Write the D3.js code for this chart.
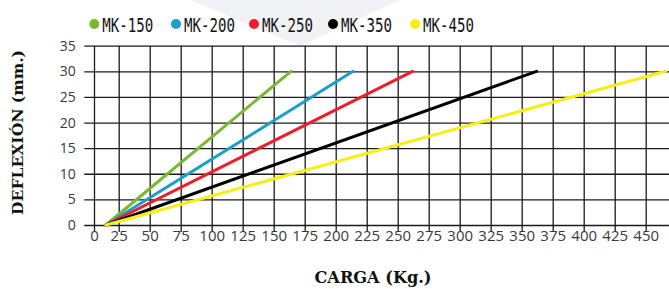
<!DOCTYPE html>
<html>
<head>
  <meta http-equiv="Content-Type" content="text/html;charset=utf-8">
  <title>Deflexion vs carga</title>
  <script src="https://d3js.org/d3.v7.min.js"></script>
  <style type="text/css">
    body { margin: 0; background: #fff; }
    .tick text { font-family: "Open Sans", sans-serif; fill: #3a3a3a; }
    .grid line { stroke: #1a1a1a; stroke-width: 1.3px; }
    .title { font-family: "DejaVu Serif", serif; font-weight: bold; fill: #111; }
    .legend text { font-family: "DejaVu Sans Mono", monospace; fill: #111; }
  </style>
</head>
<body>
  <svg width="669" height="289"></svg>
  <script type='text/javascript'>
    const series = ['MK-150', 'MK-200', 'MK-250', 'MK-350', 'MK-450'];
    const colors = ['#78b833', '#1aa0c8', '#ee1f2d', '#000000', '#f7ee14'];
    // each model: load (kg) at 0 mm and at 30 mm
    const loads = [[12, 164], [12, 214], [12, 262], [12, 362], [12, 466]];
    const deflections = [0, 30];
    const xTicks = [0, 25, 50, 75, 100, 125, 150, 175, 200, 225, 250, 275, 300, 325, 350, 375, 400, 425, 450];
    const yTicks = [0, 5, 10, 15, 20, 25, 30, 35];

    const svg = d3.select('svg');
    const width = +svg.attr('width');

    // faint watermark behind the legend
    svg.append('path')
        .attr('d', 'M190,0 L400,0 L300,46 Z')
        .attr('fill', '#f1f2f6');

    // first step (0-25) is drawn narrower than the rest in the original
    const x = d3.scaleLinear()
        .domain([0, 25, 470])
        .range([94, 118.7, 670.5]);
    const y = d3.scaleLinear()
        .domain([0, 35])
        .range([225, 45.7]);

    const gx = svg.append('g')
        .attr('class', 'grid')
        .attr('transform', 'translate(0,232)')
        .call(d3.axisBottom(x).tickValues(xTicks).tickSize(-(232 - y(35))).tickSizeOuter(0));
    gx.select('.domain').remove();
    gx.selectAll('.tick text')
        .attr('dy', '0')
        .attr('y', 9)
        .style('font-size', '15px');

    const gy = svg.append('g')
        .attr('class', 'grid')
        .attr('transform', 'translate(84.3,0)')
        .call(d3.axisLeft(y).tickValues(yTicks).tickSize(-(width - 84.3)).tickPadding(8.6).tickSizeOuter(0));
    gy.select('.domain').remove();
    gy.selectAll('.tick text').style('font-size', '14px');

    const line = d3.line()
        .x(d => x(d[0]))
        .y(d => y(d[1]));

    svg.append('g')
        .selectAll('path')
        .data(series)
        .join('path')
        .attr('d', (s, i) => line(loads[i].map((l, j) => [l, deflections[j]])))
        .attr('fill', 'none')
        .attr('stroke', (s, i) => colors[i])
        .attr('stroke-width', 3)
        .attr('stroke-linecap', 'round');

    // legend
    const legendX = [94.3, 176, 254, 333, 415];
    const leg = svg.append('g')
        .attr('class', 'legend')
        .selectAll('g')
        .data(series)
        .join('g')
        .attr('transform', (s, i) => `translate(${legendX[i]},24)`);
    leg.append('circle')
        .attr('r', 5)
        .attr('fill', (s, i) => colors[i]);
    leg.append('text')
        .attr('x', 8)
        .attr('y', 7.7)
        .attr('textLength', 51)
        .attr('lengthAdjust', 'spacingAndGlyphs')
        .style('font-size', '20px')
        .style('font-stretch', 'condensed')
        .text(s => s);

    svg.append('text')
        .attr('class', 'title')
        .attr('x', 373)
        .attr('y', 283)
        .attr('text-anchor', 'middle')
        .attr('textLength', 117)
        .attr('lengthAdjust', 'spacingAndGlyphs')
        .style('font-size', '16px')
        .text('CARGA (Kg.)');

    svg.append('text')
        .attr('class', 'title')
        .attr('transform', 'translate(23,132.5) rotate(-90)')
        .attr('text-anchor', 'middle')
        .attr('textLength', 165)
        .attr('lengthAdjust', 'spacingAndGlyphs')
        .style('font-size', '15px')
        .text('DEFLEXIÓN (mm.)');
  </script>
</body>
</html>
